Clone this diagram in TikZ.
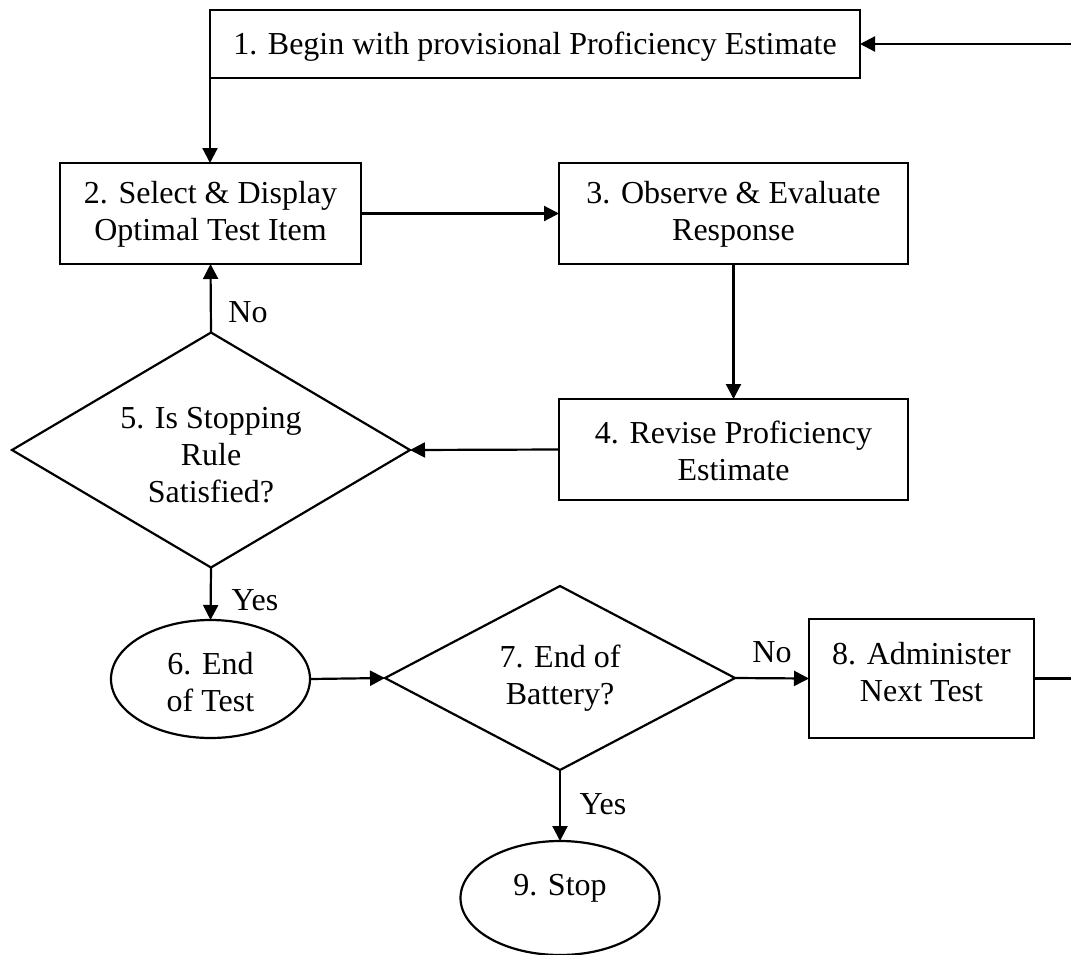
\documentclass[tikz,border=0pt]{standalone}
\usepackage{fontspec}
\setmainfont{Liberation Serif}
\usetikzlibrary{shapes.geometric,arrows.meta}
\begin{document}
\begin{tikzpicture}[x=1pt,y=-1pt,
  every node/.style={inner sep=0pt,outer sep=0pt},
  shp/.style={draw=black,line width=2.2pt,fill=white},
  boxs/.style={shp,rectangle},
  dia/.style={shp,diamond},
  ell/.style={shp,ellipse},
  txt/.style={align=center,font=\fontsize{32}{37}\selectfont},
  arr/.style={line width=2.2pt,-{Triangle[length=15pt,width=15pt]}},
  ln/.style={line width=2.2pt}]
\useasboundingbox (0,0) rectangle (1071,954);
% shapes
\node[boxs,minimum width=650pt,minimum height=68pt] (b1) at (535,44) {};
\node[boxs,minimum width=301pt,minimum height=101pt] (b2) at (210.5,213.5) {};
\node[boxs,minimum width=349pt,minimum height=101pt] (b3) at (733.5,213.5) {};
\node[boxs,minimum width=349pt,minimum height=101pt] (b4) at (733.5,449.5) {};
\node[dia,minimum width=398pt,minimum height=235pt] (d5) at (211,450) {};
\node[ell,minimum width=199pt,minimum height=118pt] (e6) at (210.5,679) {};
\node[dia,minimum width=350pt,minimum height=184pt] (d7) at (560,678) {};
\node[boxs,minimum width=225pt,minimum height=119pt] (b8) at (921.5,678.5) {};
\node[ell,minimum width=199pt,minimum height=114pt] (e9) at (560,898) {};
% texts
\node[txt] (t1) at (535,47) {1. Begin with provisional Proficiency Estimate};
\node[txt] (t2) at (210.5,214.5) {2. Select \& Display\\Optimal Test Item};
\node[txt] (t3) at (733.5,214.5) {3. Observe \& Evaluate\\Response};
\node[txt] (t4) at (733.5,451) {4. Revise Proficiency\\Estimate};
\node[txt] (t5) at (211,455) {5. Is Stopping\\Rule\\Satisfied?};
\node[txt] (t6) at (210.5,682) {6. End\\of Test};
\node[txt] (t7) at (560,678) {7. End of\\Battery?};
\node[txt] (t8) at (921.5,672) {8. Administer\\Next Test};
\node[txt] (t9) at (560,888) {9. Stop};
% labels
\node[txt] (l5no) at (248,312) {No};
\node[txt] (l5yes) at (255,600) {Yes};
\node[txt] (l7no) at (772,652) {No};
\node[txt] (l7yes) at (603,804) {Yes};
% connectors
\coordinate (rt) at (1074,0);
\draw[arr] (b1.south west) -- (b1.south west |- b2.north);
\draw[arr] (b2.east) -- (b3.west);
\draw[arr] (b3.south) -- (b4.north);
\draw[arr] (b4.west) -- (d5.east);
\draw[arr] (d5.north) -- (b2.south);
\draw[arr] (d5.south) -- (e6.north);
\draw[arr] (e6.east) -- (d7.west);
\draw[arr] (d7.east) -- (b8.west);
\draw[arr] (d7.south) -- (e9.north);
\draw[arr] (b8.east) -- (b8.east -| rt) -- (rt |- b1.east) -- (b1.east);
\end{tikzpicture}
\end{document}
